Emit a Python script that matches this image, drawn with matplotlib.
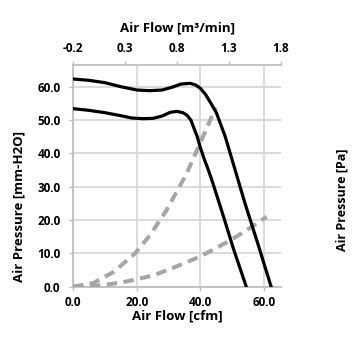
import matplotlib
matplotlib.use("Agg")
import matplotlib.pyplot as plt
from matplotlib import font_manager

# ---- data ----
fan_hi_x = [0.0, 5.0, 10.0, 15.0, 20.0, 24.0, 28.0, 31.0, 34.0, 36.8, 38.5, 40.0, 41.5, 43.0, 45.0, 47.8, 50.9, 54.0, 58.0, 62.2]
fan_hi_y = [62.3, 61.9, 61.2, 60.0, 59.0, 58.8, 59.0, 59.8, 60.8, 61.0, 60.5, 59.5, 57.8, 55.5, 52.2, 45.0, 35.0, 25.0, 13.0, 0.0]

fan_lo_x = [0.0, 5.0, 10.0, 15.0, 18.4, 22.0, 25.2, 28.0, 30.5, 32.6, 34.5, 35.7, 37.0, 37.8, 39.0, 39.9, 41.0, 42.5, 44.0, 47.0, 50.5, 54.4]
fan_lo_y = [53.4, 52.9, 52.2, 51.3, 50.6, 50.4, 50.5, 51.2, 52.3, 52.6, 52.2, 51.5, 50.0, 48.0, 45.0, 42.0, 38.8, 35.0, 30.8, 21.8, 11.0, 0.0]

sys1_x = [0.0, 6.4, 12.7, 19.5, 24.2, 29.4, 35.7, 39.9, 44.8]
sys1_y = [0.0, 1.1, 4.4, 10.0, 15.5, 23.0, 34.0, 43.0, 53.8]

sys2_x = [0.0, 6.9, 11.1, 14.8, 18.4, 22.6, 25.8, 29.4, 33.1, 36.8, 39.9, 44.1, 50.4, 54.6, 60.8]
sys2_y = [0.0, 0.3, 0.7, 1.2, 1.9, 2.8, 3.6, 4.9, 6.3, 7.8, 9.1, 11.1, 14.5, 17.0, 21.0]

bottom_ticks = [0.0, 20.0, 40.0, 60.0]
left_ticks = [0.0, 10.0, 20.0, 30.0, 40.0, 50.0, 60.0]
top_ticks = [-0.2, 0.3, 0.8, 1.3, 1.8]

avail = {f.name for f in font_manager.fontManager.ttflist}
fam = [f for f in ["Liberation Sans Narrow", "Open Sans", "DejaVu Sans"] if f in avail]
plt.rcParams['font.family'] = fam

fig = plt.figure(figsize=(3.55, 3.55), dpi=100)
ax = fig.add_axes([73/355, 1-286.7/355, 208/355, (286.7-65)/355])

grid_c = "#d9d9d9"
spine_c = "#bfbfbf"

ax.plot(sys1_x, sys1_y, color="#a6a6a6", lw=2.9, dashes=(2.6, 1.6), dash_capstyle="butt", zorder=3)
ax.plot(sys2_x, sys2_y, color="#a6a6a6", lw=2.9, dashes=(2.6, 1.6), dash_capstyle="butt", zorder=3)
ax.plot(fan_hi_x, fan_hi_y, color="black", lw=2.3, solid_joinstyle="round", zorder=4)
ax.plot(fan_lo_x, fan_lo_y, color="black", lw=2.3, solid_joinstyle="round", zorder=4)

ax.set_xlim(0, 65.3)
ax.set_ylim(0, 66.5)
ax.set_xticks(bottom_ticks)
ax.set_xticklabels([f"{v:.1f}" for v in bottom_ticks])
ax.set_yticks(left_ticks)
ax.set_yticklabels([f"{v:.1f}" for v in left_ticks])
ax.grid(True, color=grid_c, lw=1.3)
ax.set_axisbelow(True)
for s in ["top", "right"]:
    ax.spines[s].set_visible(False)
for s in ["left", "bottom"]:
    ax.spines[s].set_color(spine_c)
    ax.spines[s].set_linewidth(1.3)
ax.tick_params(axis="both", colors=spine_c, length=3, width=1, labelcolor="black", labelsize=8.5)
ax.tick_params(axis="x", pad=4)
ax.tick_params(axis="y", pad=6)
for t in ax.get_xticklabels() + ax.get_yticklabels():
    t.set_fontweight("bold")
ax.set_xlabel("Air Flow [cfm]", fontsize=9.5, fontweight="bold", labelpad=0)
ax.set_ylabel("Air Pressure [mm-H2O]", fontsize=9.5, fontweight="bold", labelpad=10)
ax.yaxis.set_label_coords(-0.23, 0.36)

axt = ax.twiny()
axt.set_xlim(-0.2, 1.8)
axt.set_xticks(top_ticks)
axt.set_xticklabels([f"{v:.1f}" for v in top_ticks])
for s in ["bottom", "left", "right"]:
    axt.spines[s].set_visible(False)
axt.spines["top"].set_color(spine_c)
axt.spines["top"].set_linewidth(1.3)
axt.tick_params(axis="x", colors=spine_c, length=3, width=1, labelcolor="black", labelsize=8.5, pad=4)
for t in axt.get_xticklabels():
    t.set_fontweight("bold")
axt.set_xlabel("Air Flow [m\u00b3/min]", fontsize=9.5, fontweight="bold", labelpad=8)

axr = ax.twinx()
axr.set_yticks([])
for s in ["top", "bottom", "left", "right"]:
    axr.spines[s].set_visible(False)
axr.set_ylabel("Air Pressure [Pa]", fontsize=9, fontweight="bold")
axr.yaxis.set_label_coords(1.26, 0.39)

fig.savefig("out.png", dpi=100, facecolor="white")
